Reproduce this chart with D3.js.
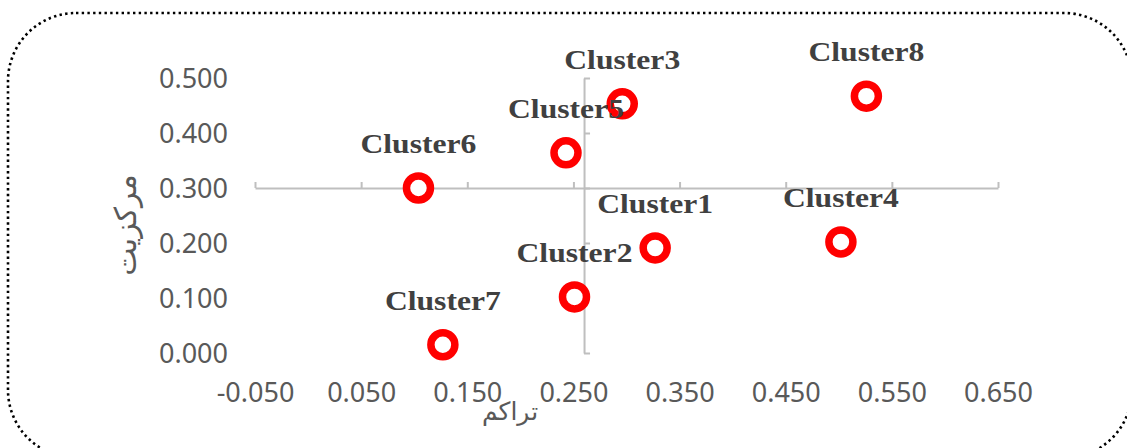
<!DOCTYPE html>
<html><head><meta charset="utf-8">
<script src="https://cdn.jsdelivr.net/npm/d3@7"></script>
<style>html,body{margin:0;padding:0;background:#fff;overflow:hidden}</style>
</head><body>
<svg id="chart" width="1127" height="448"></svg>
<script>
const clusters = ["Cluster1","Cluster2","Cluster3","Cluster4","Cluster5","Cluster6","Cluster7","Cluster8"];
const density = [0.327, 0.251, 0.296, 0.502, 0.243, 0.104, 0.127, 0.526];     // تراکم (x)
const centrality = [0.191, 0.102, 0.453, 0.202, 0.364, 0.300, 0.015, 0.467];  // مرکزیت (y)
const xTicks = [-0.05, 0.05, 0.15, 0.25, 0.35, 0.45, 0.55, 0.65];
const yTicks = [0, 0.1, 0.2, 0.3, 0.4, 0.5];
const xCross = 0.26, yCross = 0.3;
const xTitle = "تراکم", yTitle = "مرکزیت";

const svg = d3.select("#chart");
const x = d3.scaleLinear().domain([-0.05, 0.65]).range([255, 998]);
const y = d3.scaleLinear().domain([0, 0.5]).range([353, 78]);
const f3 = d3.format(".3f");
const fmt = v => f3(v).replace("\u2212", "-");
const axisColor = "#bfbfbf", labelColor = "#595959";

// dotted rounded frame
svg.append("rect").attr("x", 8).attr("y", 13).attr("width", 1124).attr("height", 445)
  .attr("rx", 68).attr("ry", 68).attr("fill", "none").attr("stroke", "#000")
  .attr("stroke-width", 2.6).attr("stroke-dasharray", "2.4 3.3");

// horizontal axis line at y = 0.3
const gx = svg.append("g").attr("transform", `translate(0,${y(yCross)})`)
  .call(d3.axisTop(x).tickValues(xTicks).tickSize(6).tickSizeOuter(0).tickFormat(""));
gx.selectAll("path,line").attr("stroke", axisColor).attr("stroke-width", 2);

// vertical axis line at x = 0.26
const gy = svg.append("g").attr("transform", `translate(${x(xCross)},0)`)
  .call(d3.axisRight(y).tickValues(yTicks).tickSize(6).tickSizeOuter(0).tickFormat(""));
gy.selectAll("path,line").attr("stroke", axisColor).attr("stroke-width", 2);

// tick labels at low position
const lx = svg.append("g").attr("transform", "translate(0,393)")
  .call(d3.axisBottom(x).tickValues(xTicks).tickSize(0).tickFormat(fmt));
lx.select(".domain").remove();
lx.selectAll("text").attr("dy", "0.35em").attr("y", 0)
  .attr("font-family", "'Noto Sans', sans-serif").attr("font-size", 27).attr("fill", labelColor);

const ly = svg.append("g").attr("transform", "translate(228,0)")
  .call(d3.axisLeft(y).tickValues(yTicks).tickSize(0).tickFormat(fmt));
ly.select(".domain").remove();
ly.selectAll("text").attr("x", 0).attr("dy", "0.35em")
  .attr("font-family", "'Noto Sans', sans-serif").attr("font-size", 27).attr("fill", labelColor);

// axis titles
svg.append("text").attr("transform", "translate(136,225) rotate(-90)")
  .attr("text-anchor", "middle").attr("direction", "rtl")
  .attr("font-family", "'DejaVu Sans', sans-serif").attr("font-size", 30).attr("fill", labelColor)
  .text(yTitle);
svg.append("text").attr("x", 510).attr("y", 420)
  .attr("text-anchor", "middle").attr("direction", "rtl")
  .attr("font-family", "'DejaVu Sans', sans-serif").attr("font-size", 25).attr("fill", labelColor)
  .text(xTitle);

// points
const data = clusters.map((c, i) => ({name: c, x: density[i], y: centrality[i]}));
svg.append("g").selectAll("circle").data(data).join("circle")
  .attr("cx", d => x(d.x)).attr("cy", d => y(d.y)).attr("r", 12)
  .attr("fill", "#fff").attr("stroke", "#ff0000").attr("stroke-width", 7.5);

// labels (slightly stretched horizontally like the reference)
svg.append("g").selectAll("text").data(data).join("text")
  .attr("transform", d => `translate(${x(d.x)},${y(d.y) - 35}) scale(1.13,1)`)
  .attr("text-anchor", "middle")
  .attr("font-family", "'Liberation Serif', 'Times New Roman', serif")
  .attr("font-weight", "bold").attr("font-size", 28).attr("fill", "#404040")
  .text(d => d.name);
</script>
</body></html>
